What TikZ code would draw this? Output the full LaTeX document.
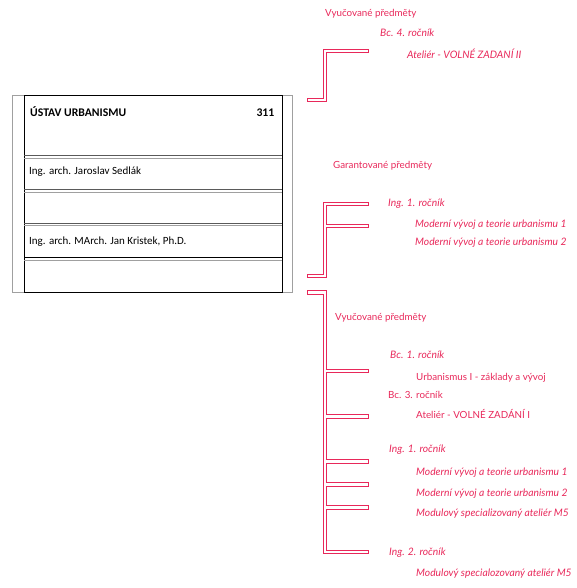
\documentclass[tikz,border=0pt]{standalone}
\usepackage{fontspec}
\setmainfont{Carlito}
\newfontfamily\pinkfont{Lato}
\definecolor{pk}{RGB}{232,40,90}
\definecolor{sepdark}{RGB}{90,90,90}
\definecolor{seplight}{RGB}{160,160,160}
\begin{document}
\begin{tikzpicture}[x=1pt,y=-1pt,
  pkout/.style={draw=pk, line width=4.8pt, line join=miter},
  pkin/.style={draw=white, line width=2.6pt, line join=miter},
  ptxt/.style={text=pk, anchor=base west, inner sep=0pt, font=\pinkfont\fontsize{9.8}{11}\selectfont},
  pit/.style={ptxt, font=\pinkfont\itshape\fontsize{10.3}{11}\selectfont},
  btxt/.style={anchor=base west, inner sep=0pt, font=\fontsize{11}{13}\selectfont},
  sepa/.style={draw=sepdark, line width=0.9pt},
  sepb/.style={draw=seplight, line width=0.9pt}]
\useasboundingbox (0,0) rectangle (576,588);

% ---------- left box ----------
\coordinate (oa) at (12.5,95);  \coordinate (ob) at (292.5,292);
\coordinate (ia) at (24,95);    \coordinate (ib) at (282,292);
\draw[draw=seplight, line width=0.9pt] (oa) rectangle (ob);
\draw[draw=black, line width=0.9pt] (ia) rectangle (ib);
\foreach \y/\c in {155.7/sepdark,189.5/sepdark,223.2/sepdark}{
  \draw[draw=\c, line width=0.9pt] (24,\y) -- (282,\y);
  \draw[sepb] (24,\y+2.6) -- (282,\y+2.6);
}
\draw[draw=black, line width=1.1pt] (24,257.3) -- (282,257.3);
\draw[sepb] (24,260) -- (282,260);

\node[btxt, font=\bfseries\fontsize{11.7}{13}\selectfont] (title) at (30,116.5) {ÚSTAV URBANISMU};
\node[btxt, anchor=base east, font=\bfseries\fontsize{11.7}{13}\selectfont] (num) at (274.5,116.5) {311};
\node[btxt] (p1) at (29,174.5) {Ing. arch. Jaroslav Sedlák};
\node[btxt] (p2) at (29,244.5) {Ing. arch. MArch. Jan Kristek, Ph.D.};

% ---------- connector 1 ----------
\coordinate (a0) at (307,100); \coordinate (a1) at (325,100);
\coordinate (a2) at (325,51);  \coordinate (a3) at (369,51);
\draw[pkout] (a0) -- (a1) -- (a2) -- (a3);
\draw[pkin, shorten <=1.1pt, shorten >=1.1pt] (a0) -- (a1) -- (a2) -- (a3);

% ---------- connector 2 ----------
\coordinate (g0) at (307,276); \coordinate (g1) at (325,276);
\coordinate (g2) at (325,204); \coordinate (g3) at (369,204);
\coordinate (gb) at (325,226); \coordinate (gc) at (369,226);
\draw[pkout] (g0) -- (g1) -- (g2) -- (g3);
\draw[pkout] (gb) -- (gc);
\draw[pkin, shorten <=1.1pt, shorten >=1.1pt] (g0) -- (g1) -- (g2) -- (g3);
\draw[pkin, shorten >=1.1pt] (gb) -- (gc);

% ---------- connector 3 ----------
\coordinate (v0) at (307,292.5); \coordinate (v1) at (325,292.5);
\coordinate (v2) at (325,552);   \coordinate (v3) at (369,552);
\draw[pkout] (v0) -- (v1) -- (v2) -- (v3);
\foreach \y in {371,416.5,461.7,484.5,507.5}{
  \draw[pkout] (325,\y) -- (369,\y);
}
\draw[pkin, shorten <=1.1pt, shorten >=1.1pt] (v0) -- (v1) -- (v2) -- (v3);
\foreach \y in {371,416.5,461.7,484.5,507.5}{
  \draw[pkin, shorten >=1.1pt] (325,\y) -- (369,\y);
}

% ---------- texts ----------
\node[ptxt] (h1) at (325,16.5) {Vyučované předměty};
\node[pit]  (r1) at (380,36.5) {Bc. 4. ročník};
\node[pit]  (s1) at (407,58.5) {Ateliér - VOLNÉ ZADANÍ II};

\node[ptxt] (h2) at (333,168) {Garantované předměty};
\node[pit]  (r2) at (388,206.5) {Ing. 1. ročník};
\node[pit]  (s2) at (415,227.5) {Moderní vývoj a teorie urbanismu 1};
\node[pit]  (s3) at (415,245.5) {Moderní vývoj a teorie urbanismu 2};

\node[ptxt] (h3) at (335,320) {Vyučované předměty};
\node[pit]  (r3) at (390,358.5) {Bc. 1. ročník};
\node[ptxt] (s4) at (416,380) {Urbanismus I - základy a vývoj};
\node[ptxt] (r4) at (388,398.5) {Bc. 3. ročník};
\node[ptxt] (s5) at (416,418.5) {Ateliér - VOLNÉ ZADÁNÍ I};
\node[pit]  (r5) at (389,452.5) {Ing. 1. ročník};
\node[pit]  (s6) at (416,475) {Moderní vývoj a teorie urbanismu 1};
\node[pit]  (s7) at (416,496.5) {Moderní vývoj a teorie urbanismu 2};
\node[pit]  (s8) at (416,516.5) {Modulový specializovaný ateliér M5};
\node[pit]  (r6) at (389,555.5) {Ing. 2. ročník};
\node[pit]  (s9) at (416,576.5) {Modulový specialozovaný ateliér M5};
\end{tikzpicture}
\end{document}
